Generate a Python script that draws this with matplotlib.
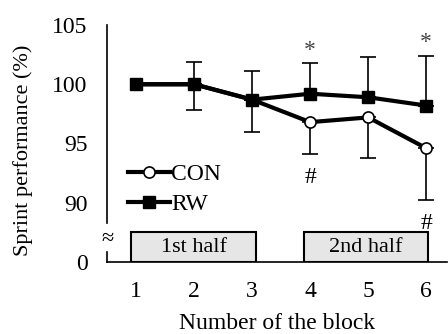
import matplotlib
matplotlib.use('Agg')
import matplotlib.pyplot as plt
from matplotlib.patches import Rectangle

# dados
blocks = [1, 2, 3, 4, 5, 6]
con = [100, 100, 98.7, 96.8, 97.2, 94.6]
rw = [100, 100, 98.7, 99.2, 98.9, 98.2]
rw_sd = [0, 1.9, 2.4, 2.6, 3.4, 4.2]
con_sd = [0, 2.2, 2.7, 2.7, 3.4, 4.4]
y_ticks = [85, 90, 95, 100, 105]
y_labels = ['0', '90', '95', '100', '105']
star_blocks = [4, 6]
hash_blocks = [4, 6]

plt.rcParams['font.family'] = ['Liberation Serif', 'DejaVu Serif']

fig = plt.figure(figsize=(4.48, 3.34), dpi=100)
ax = fig.add_axes([0.239, 0.216, 0.759, 0.709])

# barras de erro (so um lado)
ax.errorbar(blocks[1:], rw[1:], yerr=[[0] * 5, rw_sd[1:]], fmt='none',
            ecolor='black', elinewidth=1.2, capsize=6, capthick=1.2, zorder=2)
ax.errorbar(blocks[1:], con[1:], yerr=[con_sd[1:], [0] * 5], fmt='none',
            ecolor='black', elinewidth=1.2, capsize=6, capthick=1.2, zorder=2)

ax.plot(blocks, con, color='black', lw=3, marker='o', ms=8,
        mfc='white', mec='black', mew=1.2, label='CON', zorder=3)
ax.plot(blocks, rw, color='black', lw=3, marker='s', ms=8,
        mfc='black', mec='black', label='RW', zorder=4)

# asteriscos e hashes
for b in star_blocks:
    i = blocks.index(b)
    ax.text(b, rw[i] + rw_sd[i] + 0.2, '*', ha='center', va='bottom',
            fontsize=17, color='#444444')
for b in hash_blocks:
    i = blocks.index(b)
    ax.text(b, con[i] - con_sd[i] - 1.1, '#', ha='center', va='top',
            fontsize=17)

# caixas das metades
for x0, x1, txt in [(0.91, 3.07, '1st half'), (3.9, 6.03, '2nd half')]:
    ax.add_patch(Rectangle((x0, 85), x1 - x0, 2.5, facecolor='#e6e6e6',
                           edgecolor='black', lw=1.5, zorder=1))
    ax.text((x0 + x1) / 2, 86.25, txt, ha='center', va='center', fontsize=16)

ax.set_xlim(0.5, 6.36)
ax.set_ylim(85, 105)
ax.set_xticks(blocks)
ax.set_yticks(y_ticks)
ax.set_yticklabels(y_labels)
ax.tick_params(axis='both', length=0, labelsize=17)
ax.tick_params(axis='y', pad=14)
ax.tick_params(axis='x', pad=14)

for s in ['top', 'right']:
    ax.spines[s].set_visible(False)
ax.spines['left'].set_bounds(88.3, 105)
ax.spines['bottom'].set_linewidth(1.2)
ax.spines['left'].set_linewidth(1.2)
ax.plot([0.5, 0.5], [85, 85.8], color='black', lw=1.2, clip_on=False)
ax.text(0.5, 86.9, '≈', ha='center', va='center', fontsize=16)

ax.set_xlabel('Number of the block', fontsize=17, labelpad=8)
ax.set_ylabel('Sprint performance (%)', fontsize=16)
ax.yaxis.set_label_coords(-0.218, 0.47)

ax.legend(loc='upper left', bbox_to_anchor=(0.035, 0.455), frameon=False,
          fontsize=17, handlelength=1.75, handletextpad=0.05, labelspacing=0.35,
          borderaxespad=0)

plt.savefig('out.png', dpi=100)
